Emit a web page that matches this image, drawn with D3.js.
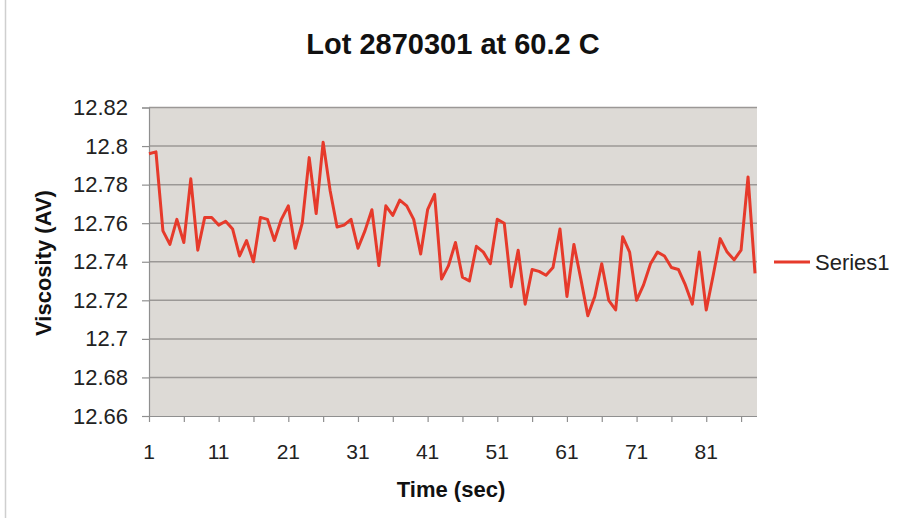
<!DOCTYPE html>
<html><head><meta charset="utf-8">
<script src="https://cdn.jsdelivr.net/npm/d3@7"></script>
<style>body{margin:0;background:#fff}svg{display:block;font-family:"Liberation Sans",Arial,sans-serif}</style>
</head><body>
<svg id="c" width="904" height="518"></svg>
<script>
const titleText = "Lot 2870301 at 60.2 C";
const xTitle = "Time (sec)";
const yTitle = "Viscosity (AV)";
const seriesName = "Series1";
const times = [1,2,3,4,5,6,7,8,9,10,11,12,13,14,15,16,17,18,19,20,21,22,23,24,25,26,27,28,29,30,
  31,32,33,34,35,36,37,38,39,40,41,42,43,44,45,46,47,48,49,50,51,52,53,54,55,56,57,58,59,60,
  61,62,63,64,65,66,67,68,69,70,71,72,73,74,75,76,77,78,79,80,81,82,83,84,85,86,87,88];
const viscosity = [12.796,12.797,12.756,12.749,12.762,12.750,12.783,12.746,12.763,12.763,
  12.759,12.761,12.757,12.743,12.751,12.740,12.763,12.762,12.751,12.762,
  12.769,12.747,12.760,12.794,12.765,12.802,12.777,12.758,12.759,12.762,
  12.747,12.756,12.767,12.738,12.769,12.764,12.772,12.769,12.762,12.744,
  12.767,12.775,12.731,12.738,12.750,12.732,12.730,12.748,12.745,12.739,
  12.762,12.760,12.727,12.746,12.718,12.736,12.735,12.733,12.737,12.757,
  12.722,12.749,12.731,12.712,12.722,12.739,12.720,12.715,12.753,12.745,
  12.720,12.728,12.739,12.745,12.743,12.737,12.736,12.728,12.718,12.745,
  12.715,12.733,12.752,12.745,12.741,12.746,12.784,12.734];
const yTicks = [12.66,12.68,12.7,12.72,12.74,12.76,12.78,12.8,12.82];
const xTickMarks = [1,6,11,16,21,26,31,36,41,46,51,56,61,66,71,76,81,86];
const xTickLabels = [1,11,21,31,41,51,61,71,81];

const svg = d3.select("#c");
const L = 149, R = 757, T = 107.5, B = 416;
const x = d3.scaleLinear().domain([1, 88]).range([L, 755]);
const y = d3.scaleLinear().domain([12.66, 12.82]).range([B, T]);

// left border of chart area
svg.append("line").attr("x1",5.5).attr("x2",5.5).attr("y1",0).attr("y2",518)
  .attr("stroke","#cfcfcf").attr("stroke-width",1.5);

// plot area
svg.append("rect").attr("x",L).attr("y",T).attr("width",R-L).attr("height",B-T)
  .attr("fill","#dddad6");

// gridlines
svg.append("g").selectAll("line").data(yTicks.slice(1)).join("line")
  .attr("x1",L).attr("x2",R).attr("y1",d=>y(d)).attr("y2",d=>y(d))
  .attr("stroke","#9b9896").attr("stroke-width",1.5);

// y axis
const yAxis = d3.axisLeft(y).tickValues(yTicks).tickSize(7).tickPadding(14)
  .tickFormat(d=>String(+d.toFixed(2)));
const gy = svg.append("g").attr("transform",`translate(${L},0)`).call(yAxis);
gy.select(".domain").attr("stroke","#8f8f8f").attr("stroke-width",1.2);
gy.selectAll(".tick line").attr("stroke","#8f8f8f").attr("stroke-width",1.2);
gy.selectAll("text").attr("font-size",22).attr("fill","#222").attr("font-family","Liberation Sans, Arial, sans-serif");

// x axis
const xAxis = d3.axisBottom(x).tickValues(xTickMarks).tickSize(6).tickFormat("");
const gx = svg.append("g").attr("transform",`translate(0,${B})`).call(xAxis);
gx.select(".domain").attr("d",`M${L},0.5H${R}`).attr("stroke","#8f8f8f").attr("stroke-width",1.2);
gx.selectAll(".tick line").attr("stroke","#8f8f8f").attr("stroke-width",1.2);
svg.append("g").selectAll("text").data(xTickLabels).join("text")
  .attr("x",d=>x(d)).attr("y",459).attr("text-anchor","middle")
  .attr("font-size",21).attr("fill","#222").text(d=>d);

// line
const line = d3.line().x((d,i)=>x(times[i])).y(d=>y(d));
svg.append("path").datum(viscosity).attr("d",line).attr("fill","none")
  .attr("stroke","#e63a2b").attr("stroke-width",3).attr("stroke-linejoin","round");

// titles
svg.append("text").attr("x",453).attr("y",54).attr("text-anchor","middle")
  .attr("font-size",29).attr("font-weight","bold").attr("fill","#111").text(titleText);
svg.append("text").attr("x",451).attr("y",497).attr("text-anchor","middle")
  .attr("font-size",22).attr("font-weight","bold").attr("fill","#111").text(xTitle);
svg.append("text").attr("transform","translate(51,263) rotate(-90)").attr("text-anchor","middle")
  .attr("font-size",22).attr("font-weight","bold").attr("fill","#111").text(yTitle);

// legend
const lg = svg.append("g");
lg.append("line").attr("x1",774).attr("x2",810).attr("y1",262).attr("y2",262)
  .attr("stroke","#e63a2b").attr("stroke-width",3);
lg.append("text").attr("x",815).attr("y",269.5).attr("font-size",22).attr("fill","#222").text(seriesName);
</script>
</body></html>
